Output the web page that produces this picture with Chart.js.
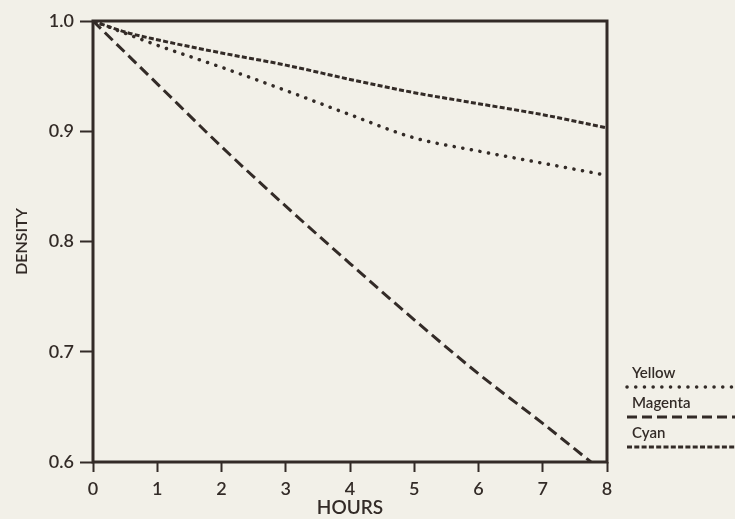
<!DOCTYPE html>
<html>
<head>
<meta charset="utf-8">
<script src="https://cdn.jsdelivr.net/npm/chart.js@4/dist/chart.umd.min.js"></script>
<style>
  html, body { margin: 0; padding: 0; background: #f2f0e8; }
  #wrap { width: 735px; height: 519px; position: relative; }
</style>
</head>
<body>
<div id="wrap"><canvas id="c" width="735" height="519"></canvas></div>
<script>
// ---- data ----
const hourTicks = [0, 1, 2, 3, 4, 5, 6, 7, 8];
const densityTicks = [0.6, 0.7, 0.8, 0.9, 1.0];

const yellowHours = [0, 1, 2, 3, 4, 5, 6, 7, 8];
const yellowDensity = [1.0, 0.978, 0.958, 0.937, 0.915, 0.894, 0.882, 0.871, 0.860];

const magentaHours = [0, 1, 2, 3, 4, 5, 6, 7, 7.75];
const magentaDensity = [1.0, 0.943, 0.886, 0.832, 0.780, 0.729, 0.680, 0.635, 0.600];

const cyanHours = [0, 0.5, 1, 2, 3, 4, 5, 6, 7, 8];
const cyanDensity = [1.0, 0.990, 0.983, 0.971, 0.960, 0.947, 0.935, 0.925, 0.915, 0.903];

const seriesNames = ['Yellow', 'Magenta', 'Cyan'];

const INK = '#332b27';
const FONT = 'Lato, "Open Sans", sans-serif';

function pts(xs, ys) { return xs.map((x, i) => ({ x: x, y: ys[i] })); }

const frameAndLegend = {
  id: 'frameAndLegend',
  afterDatasetsDraw(chart) {
    const ctx = chart.ctx;
    const a = chart.chartArea;
    ctx.save();
    ctx.strokeStyle = INK;
    ctx.lineWidth = 3;
    ctx.setLineDash([]);
    ctx.strokeRect(a.left, a.top, a.right - a.left, a.bottom - a.top);

    // legend to the right of the frame
    const lx = a.right + 20;
    const textX = a.right + 25;
    const rows = [
      { textY: 373, lineY: 387 },
      { textY: 403, lineY: 417 },
      { textY: 433, lineY: 447 }
    ];
    ctx.font = '600 15px ' + FONT;
    ctx.textBaseline = 'middle';
    ctx.textAlign = 'left';
    chart.data.datasets.forEach((ds, i) => {
      const r = rows[i];
      ctx.fillStyle = INK;
      ctx.fillText(ds.label, textX, r.textY);
      ctx.strokeStyle = INK;
      ctx.lineWidth = ds.borderWidth;
      ctx.lineCap = ds.borderCapStyle || 'butt';
      ctx.setLineDash(ds.legendDash || ds.borderDash);
      ctx.beginPath();
      ctx.moveTo(lx, r.lineY);
      ctx.lineTo(chart.width + 5, r.lineY);
      ctx.stroke();
    });
    ctx.restore();
  }
};

new Chart(document.getElementById('c'), {
  type: 'line',
  data: {
    datasets: [
      {
        label: seriesNames[0],
        data: pts(yellowHours, yellowDensity),
        borderColor: INK,
        borderWidth: 3.5,
        borderCapStyle: 'round',
        borderDash: [0.1, 8.6],
        legendDash: [0.1, 8.6],
        cubicInterpolationMode: 'monotone',
        pointRadius: 0,
        fill: false
      },
      {
        label: seriesNames[1],
        data: pts(magentaHours, magentaDensity),
        borderColor: INK,
        borderWidth: 3,
        borderDash: [11, 5.5],
        legendDash: [10, 5],
        cubicInterpolationMode: 'monotone',
        pointRadius: 0,
        fill: false
      },
      {
        label: seriesNames[2],
        data: pts(cyanHours, cyanDensity),
        borderColor: INK,
        borderWidth: 3,
        borderDash: [5, 2.3],
        legendDash: [5, 2.3],
        cubicInterpolationMode: 'monotone',
        pointRadius: 0,
        fill: false
      }
    ]
  },
  options: {
    responsive: false,
    animation: false,
    devicePixelRatio: 1,
    layout: { padding: { left: 0, right: 128, top: 21, bottom: 0 } },
    plugins: {
      legend: { display: false },
      tooltip: { enabled: false }
    },
    scales: {
      x: {
        type: 'linear',
        min: hourTicks[0],
        max: hourTicks[hourTicks.length - 1],
        afterBuildTicks(scale) { scale.ticks = hourTicks.map(v => ({ value: v })); },
        afterFit(scale) { scale.height = 57; },
        border: { display: false },
        grid: {
          drawOnChartArea: false,
          drawTicks: true,
          tickLength: 10,
          tickWidth: 2,
          tickColor: INK
        },
        ticks: {
          color: INK,
          padding: 6,
          font: { family: FONT, size: 18, weight: '600' },
          maxRotation: 0,
          callback: v => String(v)
        },
        title: {
          display: true,
          text: 'HOURS',
          color: INK,
          font: { family: FONT, size: 19, weight: '600' },
          padding: { top: 0, bottom: 0 }
        }
      },
      y: {
        type: 'linear',
        min: densityTicks[0],
        max: densityTicks[densityTicks.length - 1],
        afterBuildTicks(scale) { scale.ticks = densityTicks.map(v => ({ value: v })); },
        afterFit(scale) { scale.width = 93; },
        border: { display: false },
        grid: {
          drawOnChartArea: false,
          drawTicks: true,
          tickLength: 13,
          tickWidth: 2,
          tickColor: INK
        },
        ticks: {
          color: INK,
          padding: 6,
          font: { family: FONT, size: 18, weight: '600' },
          callback: v => Number(v).toFixed(1)
        },
        title: {
          display: true,
          text: 'DENSITY',
          color: INK,
          font: { family: FONT, size: 16, weight: '600' },
          padding: { top: 12, bottom: 0 }
        }
      }
    }
  },
  plugins: [frameAndLegend]
});
</script>
</body>
</html>
